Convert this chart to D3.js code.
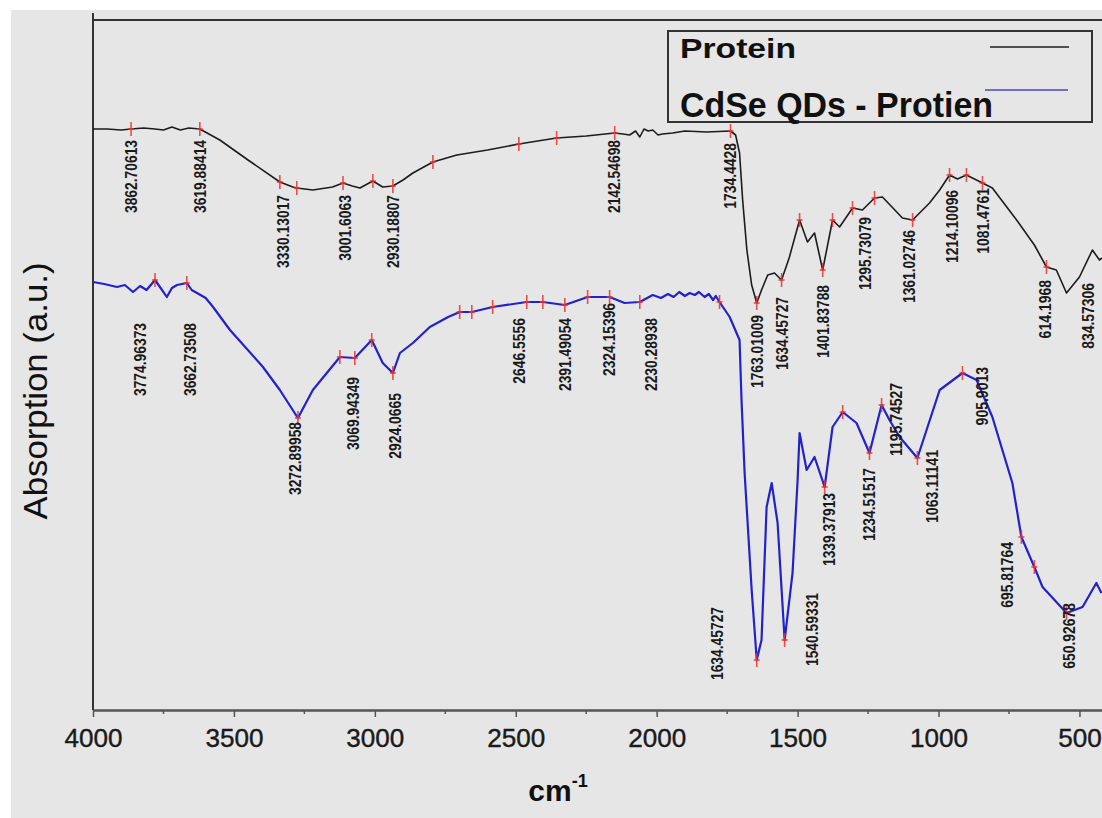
<!DOCTYPE html>
<html>
<head>
<meta charset="utf-8">
<script src="https://cdn.jsdelivr.net/npm/d3@7"></script>
<style>
  body { margin: 0; background: #fff; }
  svg { display: block; }
</style>
</head>
<body>
<div id="chart"></div>
<script>
// x ticks
var xTicks = [4000, 3500, 3000, 2500, 2000, 1500, 1000, 500];

// Protein spectrum (cm-1, absorption a.u.)
var proteinWn  = [4000, 3950, 3900, 3865, 3820, 3780, 3750, 3720, 3690, 3660, 3621, 3550, 3450, 3337, 3291, 3277, 3220, 3150, 3113, 3080, 3053, 3007, 2972, 2936, 2900, 2865, 2794, 2709, 2600, 2489, 2400, 2355, 2250, 2149, 2120, 2096, 2075, 2060, 2045, 2030, 2014, 1995, 1980, 1943, 1900, 1823, 1738, 1720, 1706, 1695, 1680, 1663, 1645, 1628, 1606, 1582, 1557, 1530, 1493, 1465, 1440, 1411, 1376, 1351, 1305, 1270, 1227, 1199, 1128, 1092, 1032, 996, 961, 933, 901, 844, 809, 723, 660, 617, 582, 546, 500, 454, 429, 420];
var proteinAbs = [58.1, 58.1, 58.0, 58.1, 58.2, 58.1, 58.0, 58.3, 58.0, 58.2, 58.1, 57.0, 55.0, 52.8, 52.3, 52.2, 52.0, 52.3, 52.7, 52.4, 52.2, 52.9, 52.3, 52.4, 53.0, 53.7, 54.8, 55.5, 56.0, 56.6, 57.0, 57.2, 57.4, 57.7, 57.6, 57.5, 57.9, 57.3, 58.1, 57.9, 58.0, 57.5, 57.6, 57.7, 57.9, 57.8, 57.9, 57.5, 55.7, 51.0, 46.0, 42.5, 40.7, 42.0, 43.5, 43.7, 43.0, 45.2, 49.0, 46.8, 47.7, 44.0, 49.0, 48.3, 50.2, 50.0, 51.2, 51.3, 49.2, 49.0, 50.7, 52.0, 53.5, 53.1, 53.5, 52.7, 52.2, 49.0, 46.5, 44.3, 44.0, 41.7, 43.3, 46.0, 45.0, 45.2];

// CdSe QDs - Protien spectrum
var cdseWn  = [4000, 3960, 3915, 3887, 3858, 3833, 3810, 3780, 3760, 3738, 3720, 3702, 3667, 3650, 3631, 3600, 3574, 3514, 3397, 3337, 3273, 3220, 3124, 3071, 3011, 2972, 2936, 2911, 2865, 2805, 2740, 2699, 2656, 2582, 2461, 2404, 2326, 2245, 2167, 2114, 2060, 2014, 1985, 1960, 1940, 1920, 1900, 1883, 1865, 1850, 1830, 1815, 1800, 1790, 1777, 1741, 1706, 1699, 1688, 1663, 1645, 1628, 1610, 1592, 1571, 1546, 1518, 1500, 1493, 1468, 1440, 1404, 1376, 1340, 1291, 1245, 1202, 1174, 1138, 1075, 996, 915, 865, 809, 738, 706, 660, 631, 546, 489, 440, 422];
var cdseAbs = [42.8, 42.6, 42.3, 42.5, 41.8, 42.4, 42.0, 43.0, 42.2, 41.3, 42.2, 42.5, 42.7, 42.0, 41.7, 41.2, 40.3, 38.0, 34.3, 32.0, 29.2, 32.0, 35.3, 35.2, 37.0, 34.7, 33.7, 35.7, 36.7, 38.3, 39.3, 39.8, 39.8, 40.3, 40.8, 40.8, 40.5, 41.3, 41.3, 40.7, 40.8, 41.5, 41.2, 41.6, 41.3, 41.8, 41.4, 41.7, 41.5, 41.8, 41.3, 41.6, 41.0, 41.4, 40.8, 39.3, 37.0, 31.0, 23.7, 12.0, 5.0, 7.0, 20.3, 22.7, 18.7, 7.0, 13.7, 23.0, 27.7, 24.0, 25.3, 22.3, 28.3, 29.8, 28.7, 25.7, 30.5, 29.0, 27.3, 25.2, 32.0, 33.7, 33.0, 29.3, 22.7, 17.3, 14.3, 12.3, 9.7, 10.3, 12.7, 11.7];

// red peak markers
var proteinPeakWn  = [3865, 3621, 3337, 3277, 3113, 3007, 2936, 2794, 2489, 2355, 2149, 1738, 1645, 1557, 1493, 1411, 1376, 1305, 1227, 1092, 961, 901, 844, 617];
var proteinPeakAbs = [58.1, 58.1, 52.8, 52.2, 52.7, 52.9, 52.4, 54.8, 56.6, 57.2, 57.7, 57.9, 40.7, 43.0, 49.0, 44.0, 49.0, 50.2, 51.2, 49.0, 53.5, 53.5, 52.7, 44.3];
var cdsePeakWn  = [3780, 3667, 3273, 3124, 3071, 3011, 2936, 2699, 2656, 2582, 2461, 2404, 2326, 2245, 2167, 2060, 1777, 1645, 1546, 1404, 1340, 1245, 1202, 1075, 915, 706, 660, 546];
var cdsePeakAbs = [43.0, 42.7, 29.2, 35.3, 35.2, 37.0, 33.7, 39.8, 39.8, 40.3, 40.8, 40.8, 40.5, 41.3, 41.3, 40.8, 40.8, 5.0, 7.0, 22.3, 29.8, 25.7, 30.5, 25.2, 33.7, 17.3, 14.3, 9.7];

// peak labels (text, anchor wavenumber, anchor absorption = top end of label)
var proteinLabels   = ["3862.70613", "3619.88414", "3330.13017", "3001.6063", "2930.18807", "2142.54698", "1734.4428", "1763.01009", "1634.45727", "1401.83788", "1295.73079", "1361.02746", "1214.10096", "1081.4761", "614.1968", "834.57306"];
var proteinLabelWn  = [3865, 3621, 3326, 3106, 2936, 2149, 1738, 1645, 1553, 1408, 1259, 1103, 950, 840, 621, 468];
var proteinLabelAbs = [57.0, 57.0, 51.5, 51.5, 51.5, 57.0, 56.7, 39.5, 41.3, 42.5, 49.3, 48.0, 52.0, 52.2, 43.0, 42.7];
var cdseLabels   = ["3774.96373", "3662.73508", "3272.89958", "3069.94349", "2924.0665", "2646.5556", "2391.49054", "2324.15396", "2230.28938", "1634.45727", "1540.59331", "1339.37913", "1234.51517", "1195.74527", "1063.11141", "905.9013", "695.81764", "650.92678"];
var cdseLabelWn  = [3833, 3656, 3284, 3075, 2929, 2486, 2326, 2170, 2018, 1784, 1447, 1387, 1245, 1149, 1021, 844, 755, 536];
var cdseLabelAbs = [38.7, 38.7, 28.8, 33.3, 31.7, 39.2, 39.2, 40.7, 39.2, 10.3, 11.7, 21.7, 24.2, 32.7, 26.0, 34.3, 16.8, 10.7];

var seriesNames = ["Protein", "CdSe QDs - Protien"];
var seriesColors = ["#1c1c1c", "#2222cc"];

var W = 1102, H = 818;
var margin = {top: 20, right: 0, bottom: 108, left: 93};

var svg = d3.select("#chart").append("svg").attr("width", W).attr("height", H);

svg.append("rect").attr("x", 11).attr("y", 10).attr("width", W - 11).attr("height", H - 10).attr("fill", "#e6e6e6");

var x = d3.scaleLinear().domain([4000, 420]).range([margin.left, W - margin.right]);
var y = d3.scaleLinear().domain([0, 69]).range([H - margin.bottom, margin.top]);

var plotBottom = H - margin.bottom;

// frame: top line and left spine
svg.append("line").attr("x1", margin.left).attr("x2", W).attr("y1", margin.top).attr("y2", margin.top)
    .attr("stroke", "#333").attr("stroke-width", 2);
svg.append("line").attr("x1", margin.left).attr("x2", margin.left).attr("y1", 13).attr("y2", plotBottom)
    .attr("stroke", "#333").attr("stroke-width", 2);

// x axis
var xAxis = svg.append("g").attr("transform", `translate(0,${plotBottom})`)
    .call(d3.axisBottom(x).tickValues(xTicks).tickSize(7).tickSizeOuter(0).tickFormat(d3.format("d")));
xAxis.select(".domain").attr("stroke", "#555").attr("stroke-width", 2.5);
xAxis.selectAll(".tick line").attr("stroke", "#555").attr("stroke-width", 1.5);
xAxis.selectAll(".tick text").attr("font-family", "Liberation Sans, Arial, sans-serif").attr("font-size", 26)
    .attr("fill", "#1a1a1a").attr("stroke", "#1a1a1a").attr("stroke-width", 0.4).attr("dy", "1.05em")
    .attr("textLength", d => String(d).length * 14.5).attr("lengthAdjust", "spacingAndGlyphs");
var minorTicks = d3.range(3750, 420, -500);
svg.append("g").selectAll("line").data(minorTicks).enter().append("line")
    .attr("x1", d => x(d)).attr("x2", d => x(d)).attr("y1", plotBottom).attr("y2", plotBottom + 4)
    .attr("stroke", "#555").attr("stroke-width", 1.5);

// axis titles
svg.append("text").attr("transform", "translate(47,391) rotate(-90)").attr("text-anchor", "middle")
    .attr("font-family", "Liberation Sans, Arial, sans-serif").attr("font-size", 34).attr("fill", "#111")
    .attr("textLength", 257).attr("lengthAdjust", "spacingAndGlyphs").text("Absorption (a.u.)");
var xt = svg.append("text").attr("x", 558).attr("y", 801).attr("text-anchor", "middle")
    .attr("font-family", "Liberation Sans, Arial, sans-serif").attr("font-size", 30).attr("font-weight", "bold").attr("fill", "#111");
xt.append("tspan").text("cm");
xt.append("tspan").attr("font-size", 18).attr("dy", -14).text("-1");

// spectra
var line = d3.line().x(d => x(d[0])).y(d => y(d[1]));
var proteinData = proteinWn.map((w, i) => [w, proteinAbs[i]]);
var cdseData = cdseWn.map((w, i) => [w, cdseAbs[i]]);

svg.append("path").datum(cdseData).attr("d", line).attr("fill", "none")
    .attr("stroke", seriesColors[1]).attr("stroke-width", 2.2).attr("stroke-linejoin", "round");
svg.append("path").datum(proteinData).attr("d", line).attr("fill", "none")
    .attr("stroke", seriesColors[0]).attr("stroke-width", 1.6).attr("stroke-linejoin", "round");

// red peak markers
function drawMarkers(wn, abs) {
    var g = svg.append("g").attr("stroke", "#e8332e").attr("stroke-opacity", 0.85);
    wn.forEach((w, i) => {
        var cx = x(w), cy = y(abs[i]);
        g.append("line").attr("x1", cx).attr("x2", cx).attr("y1", cy - 7).attr("y2", cy + 7).attr("stroke-width", 1.6);
        g.append("line").attr("x1", cx - 3).attr("x2", cx + 3).attr("y1", cy).attr("y2", cy).attr("stroke-width", 1.6);
    });
}
drawMarkers(cdsePeakWn, cdsePeakAbs);
drawMarkers(proteinPeakWn, proteinPeakAbs);

// peak labels, rotated
function drawLabels(texts, wn, abs) {
    svg.append("g").selectAll("text").data(texts).enter().append("text")
        .attr("transform", (d, i) => `translate(${x(wn[i])},${y(abs[i])}) rotate(-90)`)
        .attr("text-anchor", "end").attr("dy", "0.36em")
        .attr("font-family", "Liberation Sans Narrow, Arial Narrow, Liberation Sans, Arial, sans-serif")
        .attr("font-size", 16).attr("font-weight", "bold").attr("fill", "#1a1a1a")
        .attr("textLength", d => d.length * 7.3).attr("lengthAdjust", "spacingAndGlyphs")
        .text(d => d);
}
drawLabels(proteinLabels, proteinLabelWn, proteinLabelAbs);
drawLabels(cdseLabels, cdseLabelWn, cdseLabelAbs);

// legend
var lg = svg.append("g");
lg.append("rect").attr("x", 668).attr("y", 31).attr("width", 424).attr("height", 91)
    .attr("fill", "#e6e6e6").attr("stroke", "#333").attr("stroke-width", 2);
lg.append("text").attr("x", 680).attr("y", 58).attr("font-family", "Liberation Sans, Arial, sans-serif")
    .attr("font-size", 28).attr("font-weight", "bold").attr("fill", "#111")
    .attr("textLength", 116).attr("lengthAdjust", "spacingAndGlyphs").text(seriesNames[0]);
lg.append("text").attr("x", 680).attr("y", 117).attr("font-family", "Liberation Sans, Arial, sans-serif")
    .attr("font-size", 35).attr("font-weight", "bold").attr("fill", "#111")
    .attr("textLength", 313).attr("lengthAdjust", "spacingAndGlyphs").text(seriesNames[1]);
lg.append("line").attr("x1", 990).attr("x2", 1069).attr("y1", 47).attr("y2", 47).attr("stroke", seriesColors[0]).attr("stroke-width", 1.5);
lg.append("line").attr("x1", 985).attr("x2", 1068).attr("y1", 90).attr("y2", 90).attr("stroke", "#4444cc").attr("stroke-width", 1.5);
</script>
</body>
</html>
